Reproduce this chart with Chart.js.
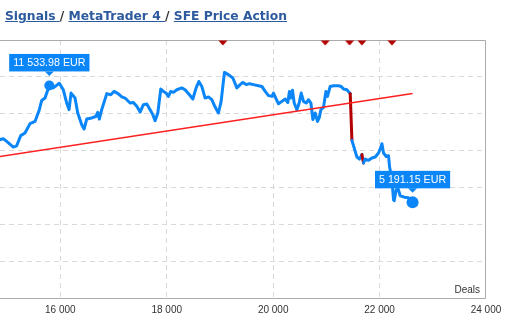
<!DOCTYPE html>
<html>
<head>
<meta charset="utf-8">
<script src="https://cdn.jsdelivr.net/npm/chart.js@4"></script>
<style>
  html, body { margin: 0; padding: 0; background: #fff; }
  #wrap { position: relative; width: 505px; height: 333px; overflow: hidden; }
  #c { position: absolute; left: 0; top: 0; }
  #crumbs {
    position: absolute; left: 5px; top: 9px;
    font: bold 12.3px 'DejaVu Sans', sans-serif; line-height: 14px;
    color: #333; white-space: nowrap;
  }
  #crumbs a { color: #2d5a9e; text-decoration: underline; }
</style>
</head>
<body>
<div id="wrap">
  <canvas id="c" width="505" height="333"></canvas>
  <div id="crumbs"><a href="#">Signals </a>/ <a href="#">MetaTrader 4 </a>/ <a href="#">SFE Price Action</a></div>
</div>
<script>
// Deal number of each balance reading
const deals = [
  14791, 14928, 14992, 15116, 15180, 15255, 15336, 15430, 15524, 15605,
  15650, 15712, 15793, 15868, 15981, 16056, 16120, 16164, 16201, 16276,
  16327, 16402, 16446, 16496, 16590, 16666, 16703, 16733, 16778, 16873,
  16948, 17010, 17085, 17155, 17217, 17311, 17373, 17437, 17499, 17561,
  17625, 17687, 17738, 17781, 17832, 17888, 17937, 17988, 18031, 18076,
  18125, 18189, 18283, 18345, 18426, 18490, 18552, 18603, 18659, 18721,
  18783, 18847, 18909, 18971, 19022, 19084, 19159, 19242, 19317, 19379,
  19430, 19492, 19554, 19629, 19724, 19788, 19850, 19912, 19976, 20006,
  20056, 20100, 20164, 20226, 20276, 20306, 20333, 20363, 20395, 20446,
  20489, 20527, 20570, 20621, 20664, 20709, 20747, 20790, 20833, 20865,
  20897, 20946, 20991, 21021, 21072, 21134, 21228, 21279, 21322, 21386,
  21448, 21480, 21523, 21574, 21623, 21668, 21698, 21730, 21792, 21856,
  21918, 21980, 22012, 22044, 22074, 22125, 22168, 22187, 22232, 22262,
  22275, 22313, 22351, 22388, 22464, 22539, 22620
];

// Balance in EUR
const balance = [
  8540, 8640, 8500, 8190, 8260, 8810, 8950, 9460, 9580, 10220,
  10720, 10850, 11533.98, 11400, 11650, 11300, 10580, 10220, 11120, 10850,
  10040, 9400, 9170, 9710, 9770, 9850, 10070, 9710, 10220, 11090,
  11030, 11210, 11090, 10910, 10850, 10580, 10610, 10400, 10090, 10490,
  10530, 10220, 9950, 9620, 10040, 11340, 11210, 11120, 10940, 11210,
  11160, 11300, 11400, 11300, 11030, 10800, 11400, 11750, 11480, 10850,
  10910, 10760, 10360, 10040, 10670, 12240, 12120, 11940, 11400, 11580,
  11700, 11580, 11630, 11580, 11520, 11480, 11210, 10980, 10940, 11120,
  10800, 10540, 10670, 10800, 10610, 11210, 10850, 11270, 10580, 10220,
  10580, 11120, 10670, 10580, 10760, 10580, 9680, 10040, 9580, 9770,
  10220, 10340, 11210, 10940, 11480, 11520, 11520, 11480, 11340, 11300,
  11090, 8550, 8140, 7650, 7540, 7780, 7330, 7540, 7470, 7600,
  7650, 7870, 8090, 8370, 7870, 7680, 7720, 7140, 6420, 5330,
  5280, 5880, 5900, 5550, 5470, 5440, 5191.15
];

// Deals where a losing drop starts (drawn in dark red)
const drawdownStarts = [21448, 21668];

// Linear trend of the balance
const trendDeals = [14700, 22620];
const trendValues = [7611, 11102];

// Event markers along the top edge
const markerDeals = [19054, 20978, 21435, 21668, 22232];

// Axis ticks
const xTicks = [16000, 18000, 20000, 22000, 24000];
const yTicks = [0, 2000, 4000, 6000, 8000, 10000, 12000, 14000];

// Balance points that carry a value callout
const highlighted = [balance.indexOf(11533.98), balance.length - 1];

const LINE_BLUE = '#0a86f9';
const DROP_RED = '#b30000';
const GRID = '#d9d9d9';
const FRAME = '#ababab';

const fmtThousands = v => String(v).replace(/\B(?=(\d{3})+(?!\d))/g, ' ');
const fmtEur = v => {
  const [i, f] = v.toFixed(2).split('.');
  return fmtThousands(i) + '.' + f + ' EUR';
};

// Flat downward triangle used as marker glyph
const markerGlyph = (() => {
  const c = document.createElement('canvas');
  c.width = 10; c.height = 12;
  const g = c.getContext('2d');
  g.fillStyle = DROP_RED;
  g.beginPath();
  g.moveTo(0.5, 6.5); g.lineTo(9.5, 6.5); g.lineTo(5, 11.5);
  g.closePath(); g.fill();
  return c;
})();

Chart.defaults.font.family = "'Liberation Sans', Arial, sans-serif";

const framePlugin = {
  id: 'frame',
  beforeDatasetsDraw(chart) {
    const { ctx, chartArea: a } = chart;
    ctx.save();
    ctx.strokeStyle = FRAME;
    ctx.lineWidth = 1;
    ctx.beginPath();
    ctx.moveTo(a.left, a.top + 0.5); ctx.lineTo(a.right - 0.5, a.top + 0.5);
    ctx.lineTo(a.right - 0.5, a.bottom + 0.5); ctx.lineTo(a.left, a.bottom + 0.5);
    ctx.stroke();
    ctx.fillStyle = '#333';
    ctx.font = "10px 'Liberation Sans', Arial, sans-serif";
    ctx.textAlign = 'right';
    ctx.textBaseline = 'alphabetic';
    ctx.fillText('Deals', a.right - 6, a.bottom - 5);
    ctx.restore();
  }
};

const calloutPlugin = {
  id: 'callouts',
  afterDatasetsDraw(chart) {
    const { ctx } = chart;
    const meta = chart.getDatasetMeta(1);
    ctx.save();
    ctx.font = "10.7px 'Liberation Sans', Arial, sans-serif";
    ctx.textAlign = 'center';
    ctx.textBaseline = 'middle';
    highlighted.forEach(i => {
      const pt = meta.data[i];
      const text = fmtEur(balance[i]);
      const w = ctx.measureText(text).width + 8;
      const h = 17.5;
      const bottom = pt.y - 14;
      const left = pt.x - w / 2;
      ctx.fillStyle = LINE_BLUE;
      ctx.fillRect(left, bottom - h, w, h);
      ctx.beginPath();
      ctx.moveTo(pt.x - 4.5, bottom);
      ctx.lineTo(pt.x + 4.5, bottom);
      ctx.lineTo(pt.x, bottom + 4.5);
      ctx.closePath();
      ctx.fill();
      ctx.fillStyle = '#fff';
      ctx.fillText(text, pt.x, bottom - h / 2 + 0.5);
    });
    ctx.restore();
  }
};

new Chart(document.getElementById('c'), {
  type: 'line',
  data: {
    datasets: [
      {
        label: 'Trend',
        data: trendDeals.map((d, i) => ({ x: d, y: trendValues[i] })),
        borderColor: '#ff1f1f',
        borderWidth: 1.5,
        pointRadius: 0
      },
      {
        label: 'Balance',
        data: deals.map((d, i) => ({ x: d, y: balance[i] })),
        borderColor: LINE_BLUE,
        borderWidth: 3,
        borderJoinStyle: 'round',
        borderCapStyle: 'round',
        tension: 0,
        pointRadius: ctx => ctx.dataIndex === highlighted[0] ? 5 : (ctx.dataIndex === highlighted[1] ? 6 : 0),
        pointHoverRadius: 0,
        pointBackgroundColor: LINE_BLUE,
        pointBorderWidth: 0,
        segment: {
          borderColor: ctx => drawdownStarts.includes(ctx.p0.parsed.x) ? DROP_RED : undefined
        }
      },
      {
        label: 'Events',
        type: 'scatter',
        data: markerDeals.map(d => ({ x: d, y: yTicks[yTicks.length - 1] })),
        pointStyle: markerGlyph,
        pointRadius: 5,
        clip: false
      }
    ]
  },
  options: {
    responsive: false,
    animation: false,
    devicePixelRatio: 1,
    layout: { autoPadding: false, padding: { top: 40, right: 19, left: 0, bottom: 0 } },
    plugins: { legend: { display: false }, tooltip: { enabled: false } },
    scales: {
      x: {
        type: 'linear',
        min: 14866,
        max: xTicks[xTicks.length - 1],
        afterBuildTicks: scale => { scale.ticks = xTicks.map(v => ({ value: v })); },
        afterFit: scale => {
          scale.height = 35;
          scale.paddingLeft = 0;
          scale.paddingRight = 0;
        },
        ticks: {
          color: '#333',
          font: { size: 10 },
          padding: 6,
          maxRotation: 0,
          callback: v => fmtThousands(v)
        },
        grid: {
          color: ctx => (ctx.tick && ctx.tick.value === xTicks[xTicks.length - 1]) ? 'rgba(0,0,0,0)' : GRID,
          drawTicks: false
        },
        border: { display: false, dash: [5, 4] }
      },
      y: {
        min: yTicks[0],
        max: yTicks[yTicks.length - 1],
        afterBuildTicks: scale => { scale.ticks = yTicks.map(v => ({ value: v })); },
        afterFit: scale => { scale.width = 0; },
        ticks: { display: false },
        grid: {
          color: ctx => (ctx.tick && (ctx.tick.value === yTicks[0] || ctx.tick.value === yTicks[yTicks.length - 1])) ? 'rgba(0,0,0,0)' : GRID,
          drawTicks: false
        },
        border: { display: false, dash: [5, 4] }
      }
    }
  },
  plugins: [framePlugin, calloutPlugin]
});
</script>
</body>
</html>
